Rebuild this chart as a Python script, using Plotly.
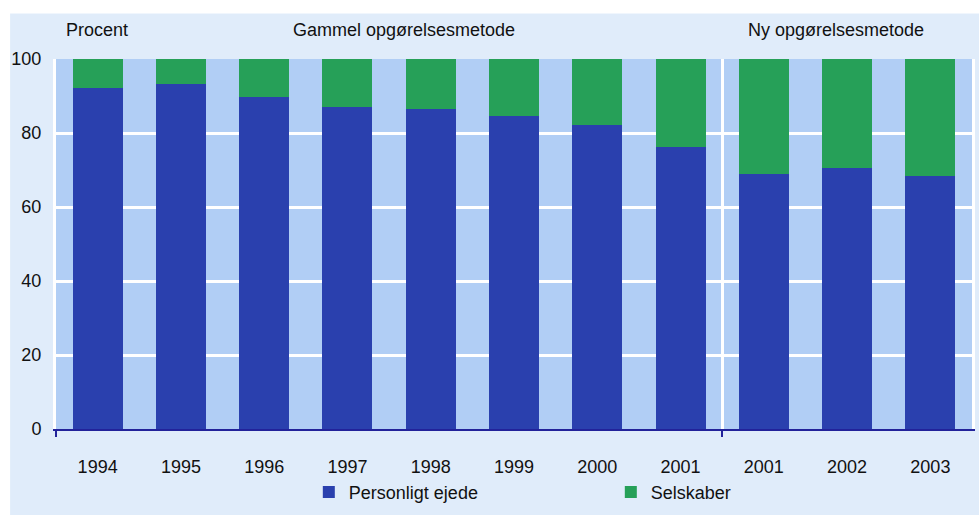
import plotly.graph_objects as go

categories = ["1994", "1995", "1996", "1997", "1998", "1999", "2000", "2001", "2001", "2002", "2003"]
personligt = [92.2, 93.3, 89.6, 86.9, 86.6, 84.5, 82.1, 76.2, 68.9, 70.5, 68.4]
selskaber = [7.8, 6.7, 10.4, 13.1, 13.4, 15.5, 17.9, 23.8, 31.1, 29.5, 31.6]
y_ticks = [0, 20, 40, 60, 80, 100]
divider_ticks = [-0.5, 7.5]

BLUE = "#2a40ae"
GREEN = "#26a058"
PAGE = "#e0ecfa"
PLOT = "#b1cef5"
NAVY = "#22229a"
FONT = "Liberation Sans, Arial, sans-serif"

xpos = list(range(len(categories)))

fig = go.Figure()
fig.add_trace(go.Bar(x=xpos, y=personligt, name="Personligt ejede", marker=dict(color=BLUE, line=dict(width=0)), width=0.6))
fig.add_trace(go.Bar(x=xpos, y=selskaber, name="Selskaber", marker=dict(color=GREEN, line=dict(width=0)), width=0.6))
# invisible trace on the overlay axis to carry the divider ticks / gridline
fig.add_trace(go.Scatter(x=divider_ticks, y=[0, 0], xaxis="x2", mode="markers",
                         marker=dict(opacity=0), showlegend=False, hoverinfo="skip"))

fig.update_layout(
    width=979, height=515,
    barmode="stack",
    bargap=0.4,
    paper_bgcolor=PAGE,
    plot_bgcolor=PLOT,
    margin=dict(l=56, r=4, t=59, b=82),
    font=dict(family=FONT, size=18, color="#111111"),
    xaxis=dict(
        range=[-0.5, 10.5], tickvals=xpos, ticktext=categories,
        showgrid=False, zeroline=False, ticks="", showline=True,
        linecolor=NAVY, linewidth=2, ticklabelstandoff=20,
        tickfont=dict(size=18, color="#111111"),
    ),
    xaxis2=dict(
        overlaying="x", range=[-0.5, 10.5], tickvals=divider_ticks,
        showticklabels=False, ticks="outside", ticklen=7, tickwidth=2,
        tickcolor=NAVY, showgrid=True, gridcolor="white", gridwidth=3,
        zeroline=False, showline=False, side="bottom",
    ),
    yaxis=dict(
        range=[0, 100], tickvals=y_ticks, showgrid=True, gridcolor="white",
        gridwidth=3, zeroline=False, showline=True, linecolor="white",
        linewidth=3, mirror=True, ticks="", ticklabelstandoff=8,
        tickfont=dict(size=18, color="#111111"),
    ),
    legend=dict(
        orientation="h", x=0.276, y=-0.171, xanchor="left", yanchor="middle",
        bgcolor="rgba(0,0,0,0)", entrywidth=257, entrywidthmode="pixels",
        font=dict(size=18, color="#111111"), traceorder="normal",
    ),
    shapes=[
        dict(type="rect", xref="paper", yref="paper", x0=-0.07, x1=-0.0501,
             y0=-0.3, y1=1.3, fillcolor="white", line=dict(width=0), layer="below"),
        dict(type="rect", xref="paper", yref="paper", x0=-0.07, x1=1.01,
             y0=1.123, y1=1.3, fillcolor="white", line=dict(width=0), layer="below"),
    ],
    annotations=[
        dict(text="Procent", xref="paper", yref="paper", x=0.0087, y=1.0775,
             xanchor="left", yanchor="middle", showarrow=False),
        dict(text="Gammel opgørelsesmetode", xref="paper", yref="paper", x=0.3798, y=1.0775,
             xanchor="center", yanchor="middle", showarrow=False),
        dict(text="Ny opgørelsesmetode", xref="paper", yref="paper", x=0.8517, y=1.0775,
             xanchor="center", yanchor="middle", showarrow=False),
    ],
)

fig.write_html("out.html", config={"displayModeBar": False},
               post_script="document.body.style.margin='0';")
